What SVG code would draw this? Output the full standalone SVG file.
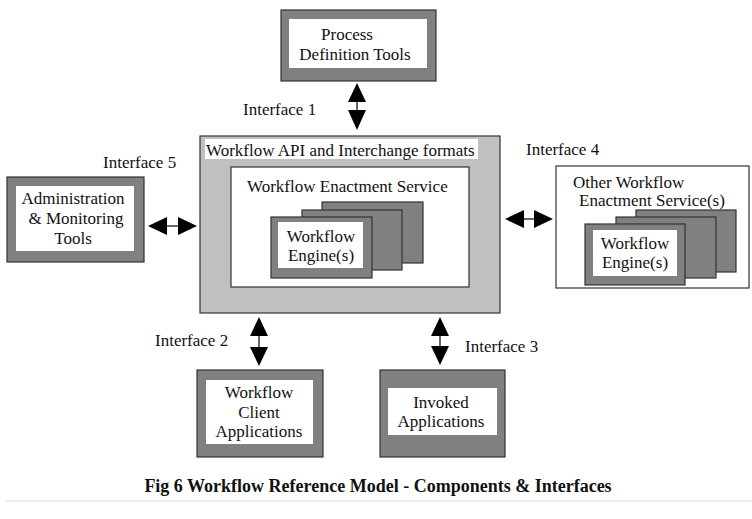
<svg xmlns="http://www.w3.org/2000/svg" width="752" height="519" viewBox="0 0 752 519">
<defs>
<style>
text{font-family:"Liberation Serif","Times New Roman",serif;font-size:17px;fill:#111}
.c{text-anchor:middle}
.dark{fill:#808080;stroke:#333;stroke-width:1.2}
.white{fill:#fff;stroke:none}
.wb{fill:#fff;stroke:#333;stroke-width:1.2}
.light{fill:#c0c0c0;stroke:#333;stroke-width:1.2}
.shaft{stroke:#000;stroke-width:1.2;fill:none}
.head{fill:#000}
.cap{font-weight:bold;font-size:18px}
</style>
</defs>
<rect x="0" y="0" width="752" height="519" fill="#fff"/>

<g id="process-definition-tools">
<rect class="dark" x="281" y="10" width="155" height="71"/>
<rect class="white" x="289" y="19" width="138" height="49"/>
<text class="c" x="347" y="40">Process</text>
<text class="c" x="355" y="60">Definition Tools</text>
</g>

<g id="workflow-api">
<rect class="light" x="200" y="136" width="300" height="177"/>
<rect class="white" x="205" y="139" width="273" height="20"/>
<text x="206" y="156">Workflow API and Interchange formats</text>
</g>

<g id="workflow-enactment-service">
<rect class="wb" x="231" y="167" width="238" height="120"/>
<text x="247" y="192">Workflow Enactment Service</text>
<rect class="dark" x="322" y="202" width="101" height="61"/>
<rect class="dark" x="302" y="210" width="100" height="60"/>
<rect class="dark" x="271" y="217" width="101" height="61"/>
<rect class="white" x="278" y="222" width="85" height="46"/>
<text class="c" x="321" y="242">Workflow</text>
<text class="c" x="321" y="261">Engine(s)</text>
</g>

<g id="administration-monitoring-tools">
<rect class="dark" x="7" y="177" width="137" height="85"/>
<rect class="white" x="16" y="186" width="118" height="65"/>
<text class="c" x="73" y="204">Administration</text>
<text class="c" x="76" y="224">&amp; Monitoring</text>
<text class="c" x="73" y="244">Tools</text>
</g>

<g id="other-workflow-enactment-services">
<rect class="wb" x="556" y="166" width="193" height="122"/>
<text x="573" y="188">Other Workflow</text>
<text x="579" y="206">Enactment Service(s)</text>
<rect class="dark" x="636" y="210" width="100" height="62"/>
<rect class="dark" x="616" y="217" width="100" height="61"/>
<rect class="dark" x="585" y="224" width="100" height="61"/>
<rect class="white" x="593" y="230" width="84" height="46"/>
<text class="c" x="635" y="249">Workflow</text>
<text class="c" x="635" y="268">Engine(s)</text>
</g>

<g id="workflow-client-applications">
<rect class="dark" x="197" y="370" width="126" height="87"/>
<rect class="white" x="206" y="380" width="107" height="64"/>
<text class="c" x="259" y="398">Workflow</text>
<text class="c" x="259" y="418">Client</text>
<text class="c" x="259" y="437">Applications</text>
</g>

<g id="invoked-applications">
<rect class="dark" x="380" y="370" width="125" height="87"/>
<rect class="white" x="388" y="388" width="109" height="47"/>
<text class="c" x="441" y="408">Invoked</text>
<text class="c" x="441" y="427">Applications</text>
</g>

<g id="connectors">
<!-- Interface 1 -->
<line class="shaft" x1="357" y1="100" x2="357" y2="112"/>
<polygon class="head" points="357,83 348,102 366,102"/>
<polygon class="head" points="357,130 348,110 366,110"/>
<!-- Interface 5 -->
<line class="shaft" x1="165" y1="226" x2="180" y2="226"/>
<polygon class="head" points="148,226 167,217 167,235"/>
<polygon class="head" points="197,226 178,217 178,235"/>
<!-- Interface 4 -->
<line class="shaft" x1="522" y1="219" x2="536" y2="219"/>
<polygon class="head" points="505,219 524,210 524,228"/>
<polygon class="head" points="553,219 534,210 534,228"/>
<!-- Interface 2 -->
<line class="shaft" x1="259" y1="333" x2="259" y2="349"/>
<polygon class="head" points="259,317 250,336 268,336"/>
<polygon class="head" points="259,366 250,347 268,347"/>
<!-- Interface 3 -->
<line class="shaft" x1="440" y1="333" x2="440" y2="349"/>
<polygon class="head" points="440,317 431,336 449,336"/>
<polygon class="head" points="440,365 431,346 449,346"/>
</g>

<g id="labels">
<text x="243" y="115">Interface 1</text>
<text x="103" y="168">Interface 5</text>
<text x="526" y="155">Interface 4</text>
<text x="155" y="346">Interface 2</text>
<text x="465" y="352">Interface 3</text>
</g>

<text class="c cap" x="378" y="492">Fig 6 Workflow Reference Model - Components &amp; Interfaces</text>
<line x1="5" y1="501" x2="752" y2="501" stroke="#ddd" stroke-width="1"/>
</svg>
